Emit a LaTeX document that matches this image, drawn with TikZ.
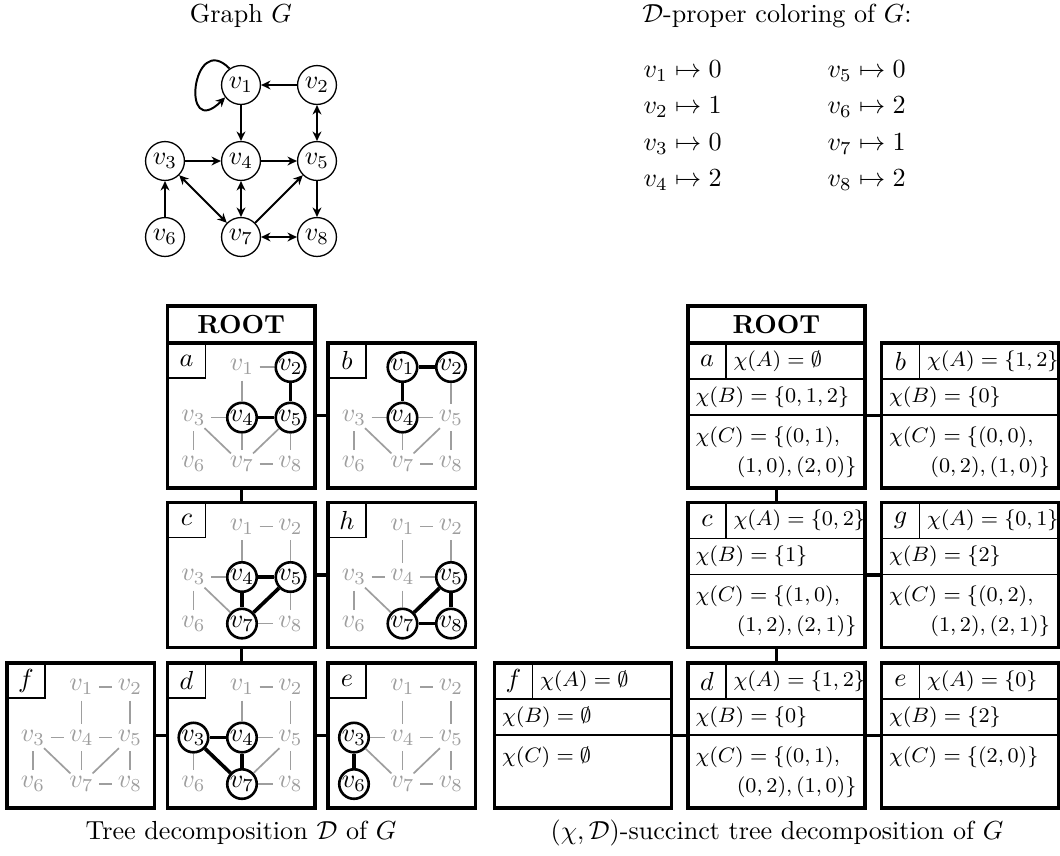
\documentclass[tikz,border=0pt]{standalone}
\usetikzlibrary{arrows.meta,shapes.geometric}

\tikzset{
  % graph G
  gnode/.style={circle, draw, line width=0.5pt, minimum size=14.9pt, inner sep=0pt},
  tip/.tip={Stealth[length=3.6pt,width=3.4pt]},
  arc/.style={line width=0.75pt, -tip},
  both/.style={line width=0.75pt, tip-tip},
  % bags of the decompositions
  bagbox/.style={draw, rectangle, line width=1.3pt, inner sep=0pt, outer sep=0pt,
                 minimum width=56.5pt, minimum height=55.5pt},
  sbagbox/.style={bagbox, minimum width=67.8pt},
  rootbox/.style={draw, rectangle, line width=1.3pt, inner sep=0pt, outer sep=0pt,
                  minimum width=56.5pt, minimum height=14.2pt, font=\bfseries},
  lbl/.style={draw, rectangle, line width=0.5pt, inner sep=0pt, outer sep=0pt,
              minimum width=14.55pt, minimum height=13.4pt},
  thinrule/.style={line width=0.5pt},
  tedge/.style={line width=1.3pt},
  % vertices and edges inside a bag
  gv/.style={ellipse, inner sep=0pt, minimum width=12.6pt, minimum height=10pt, text=black!38},
  bv/.style={circle, draw, line width=1pt, fill=white, inner sep=0pt, minimum size=11.3pt},
  ge/.style={draw=black!38, line width=0.65pt},
  be/.style={draw, line width=1.4pt},
  allgray/.style={vs1/.style=gv, vs2/.style=gv, vs3/.style=gv, vs4/.style=gv,
                  vs5/.style=gv, vs6/.style=gv, vs7/.style=gv, vs8/.style=gv,
                  es12/.style=ge, es14/.style=ge, es25/.style=ge, es34/.style=ge,
                  es45/.style=ge, es36/.style=ge, es37/.style=ge, es47/.style=ge,
                  es57/.style=ge, es58/.style=ge, es78/.style=ge},
  txt/.style={anchor=west, inner sep=0pt},
  stxt/.style={txt, font=\footnotesize},
}

% a bag of the tree decomposition: name, centre, label, highlighted vertices/edges
\newcommand\tdbag[4]{%
  \node[bagbox] (#1) at #2 {};
  \begin{scope}[shift={(#1.north west)}, allgray, #4]
    \node[lbl, anchor=north west] (#1-lab) at (0,0) {$#3$};
    \node[vs1] (#1-1) at (74.5,24) {$v_1$};
    \node[vs2] (#1-2) at (123,24) {$v_2$};
    \node[vs3] (#1-3) at (26,74.5) {$v_3$};
    \node[vs4] (#1-4) at (74.5,74.5) {$v_4$};
    \node[vs5] (#1-5) at (123,74.5) {$v_5$};
    \node[vs6] (#1-6) at (26,121) {$v_6$};
    \node[vs7] (#1-7) at (74.5,121) {$v_7$};
    \node[vs8] (#1-8) at (123,121) {$v_8$};
    \path[es12] (#1-1) -- (#1-2);
    \path[es14] (#1-1) -- (#1-4);
    \path[es25] (#1-2) -- (#1-5);
    \path[es34] (#1-3) -- (#1-4);
    \path[es45] (#1-4) -- (#1-5);
    \path[es36] (#1-3) -- (#1-6);
    \path[es37] (#1-3) -- (#1-7);
    \path[es47] (#1-4) -- (#1-7);
    \path[es57] (#1-5) -- (#1-7);
    \path[es58] (#1-5) -- (#1-8);
    \path[es78] (#1-7) -- (#1-8);
  \end{scope}}

% a bag of the succinct decomposition: name, centre, label, A, B, C (two lines)
\newcommand\sbag[7]{%
  \node[sbagbox] (#1) at #2 {};
  \begin{scope}[shift={(#1.north west)}]
    \draw[thinrule] (0,36) -- (177,36) (0,72) -- (177,72) (38,0) -- (38,36);
    \node (#1-lab) at (19,18) {$#3$};
    \node[stxt] (#1-A) at (45,18) {$\chi(A) = #4$};
    \node[stxt] (#1-B) at (7,54) {$\chi(B) = #5$};
    \node[stxt] (#1-C) at (7,94) {$\chi(C) = #6$};
    \if\relax\detokenize{#7}\relax\else
      \node[stxt, anchor=east] (#1-C2) at (169,124) {$#7$};
    \fi
  \end{scope}}

\begin{document}
\begin{tikzpicture}[x=0.383pt, y=-0.383pt]
\useasboundingbox (0,0) rectangle (1060,855);

% ---------- graph G ----------
\node (gtitle) at (241,16) {Graph $G$};
\node[gnode] (g1) at (241,85)  {$v_1$};
\node[gnode] (g2) at (317,85)  {$v_2$};
\node[gnode] (g3) at (165,161) {$v_3$};
\node[gnode] (g4) at (241,161) {$v_4$};
\node[gnode] (g5) at (317,161) {$v_5$};
\node[gnode] (g6) at (165,237) {$v_6$};
\node[gnode] (g7) at (241,237) {$v_7$};
\node[gnode] (g8) at (317,237) {$v_8$};
\draw[arc] (g1.125) .. controls (192,30) and (180,142) .. (g1.218);
\draw[arc] (g2) -- (g1);
\draw[arc] (g1) -- (g4);
\draw[both] (g2) -- (g5);
\draw[arc] (g3) -- (g4);
\draw[arc] (g4) -- (g5);
\draw[arc] (g5) -- (g8);
\draw[both] (g3) -- (g7);
\draw[both] (g4) -- (g7);
\draw[arc] (g7) -- (g5);
\draw[arc] (g6) -- (g3);
\draw[both] (g7) -- (g8);

% ---------- colouring ----------
\node (ctitle) at (777,16) {$\mathcal{D}$-proper coloring of $G$:};
\node[txt] (c1) at (643,71)    {$v_1 \mapsto 0$};
\node[txt] (c2) at (643,107.5) {$v_2 \mapsto 1$};
\node[txt] (c3) at (643,144)   {$v_3 \mapsto 0$};
\node[txt] (c4) at (643,180.5) {$v_4 \mapsto 2$};
\node[txt] (c5) at (827,71)    {$v_5 \mapsto 0$};
\node[txt] (c6) at (827,107.5) {$v_6 \mapsto 2$};
\node[txt] (c7) at (827,144)   {$v_7 \mapsto 1$};
\node[txt] (c8) at (827,180.5) {$v_8 \mapsto 2$};

% ---------- tree decomposition ----------
\tdbag{La}{(241.25,415.5)}{a}{vs2/.style=bv, vs4/.style=bv, vs5/.style=bv, es25/.style=be, es45/.style=be}
\tdbag{Lb}{(401.75,415.5)}{b}{vs1/.style=bv, vs2/.style=bv, vs4/.style=bv, es12/.style=be, es14/.style=be}
\tdbag{Lc}{(241.25,575)}{c}{vs4/.style=bv, vs5/.style=bv, vs7/.style=bv, es45/.style=be, es47/.style=be, es57/.style=be}
\tdbag{Lh}{(401.75,575)}{h}{vs5/.style=bv, vs7/.style=bv, vs8/.style=bv, es57/.style=be, es58/.style=be, es78/.style=be}
\tdbag{Lf}{(80.75,735.5)}{f}{}
\tdbag{Ld}{(241.25,735.5)}{d}{vs3/.style=bv, vs4/.style=bv, vs7/.style=bv, es34/.style=be, es37/.style=be, es47/.style=be}
\tdbag{Le}{(401.75,735.5)}{e}{vs3/.style=bv, vs6/.style=bv, es36/.style=be}
\node[rootbox, anchor=south] (Lroot) at (La.north) {ROOT};
\draw[tedge] (La) -- (Lb);
\draw[tedge] (La) -- (Lc);
\draw[tedge] (Lc) -- (Lh);
\draw[tedge] (Lc) -- (Ld);
\draw[tedge] (Lf) -- (Ld);
\draw[tedge] (Ld) -- (Le);
\node (capL) at (241,833) {Tree decomposition $\mathcal{D}$ of $G$};

% ---------- succinct tree decomposition ----------
\sbag{Ra}{(776.5,415.5)}{a}{\emptyset}{\{0,1,2\}}{\{(0,1),}{(1,0),(2,0)\}}
\sbag{Rb}{(970,415.5)}{b}{\{1,2\}}{\{0\}}{\{(0,0),}{(0,2),(1,0)\}}
\sbag{Rc}{(776.5,575)}{c}{\{0,2\}}{\{1\}}{\{(1,0),}{(1,2),(2,1)\}}
\sbag{Rg}{(970,575)}{g}{\{0,1\}}{\{2\}}{\{(0,2),}{(1,2),(2,1)\}}
\sbag{Rf}{(583,735.5)}{f}{\emptyset}{\emptyset}{\emptyset}{}
\sbag{Rd}{(776.5,735.5)}{d}{\{1,2\}}{\{0\}}{\{(0,1),}{(0,2),(1,0)\}}
\sbag{Re}{(970,735.5)}{e}{\{0\}}{\{2\}}{\{(2,0)\}}{}
\node[rootbox, anchor=south, minimum width=67.8pt] (Rroot) at (Ra.north) {ROOT};
\draw[tedge] (Ra) -- (Rb);
\draw[tedge] (Ra) -- (Rc);
\draw[tedge] (Rc) -- (Rg);
\draw[tedge] (Rc) -- (Rd);
\draw[tedge] (Rf) -- (Rd);
\draw[tedge] (Rd) -- (Re);
\node (capR) at (777,833) {$(\chi,\mathcal{D})$-succinct tree decomposition of $G$};
\end{tikzpicture}
\end{document}
